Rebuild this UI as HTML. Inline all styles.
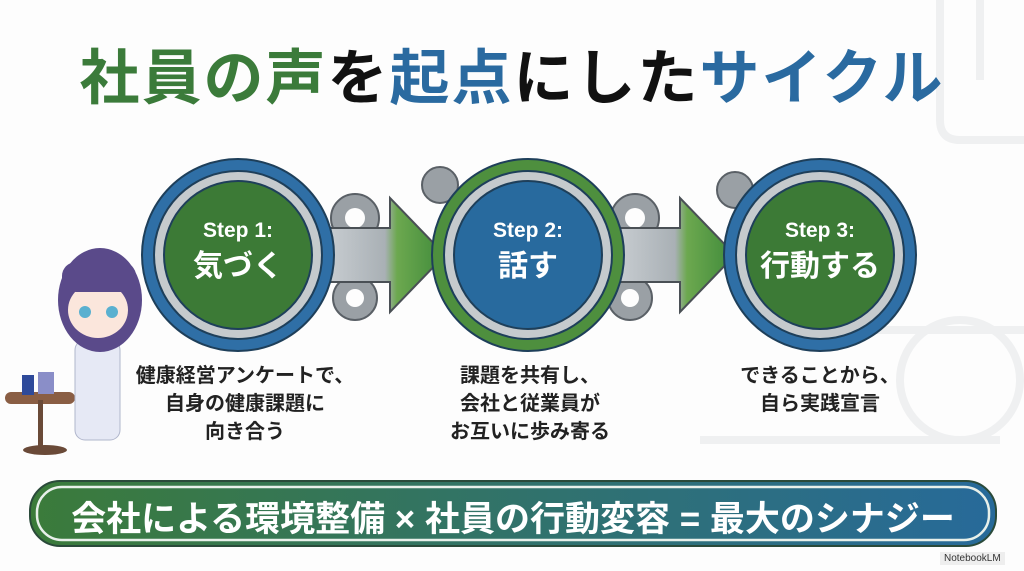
<!DOCTYPE html>
<html><head><meta charset="utf-8"><style>
body{margin:0;width:1024px;height:571px;overflow:hidden;background:#fdfdfd;font-family:"Liberation Sans","Noto Sans CJK JP",sans-serif}
.t{position:absolute;font-weight:bold;white-space:nowrap}
</style></head><body>
<svg width="1024" height="571" style="position:absolute;left:0;top:0">
<defs>
<linearGradient id="bg" x1="0" x2="1"><stop offset="0" stop-color="#3b7b3a"/><stop offset="1" stop-color="#276a9a"/></linearGradient>
<linearGradient id="ar" x1="0" x2="1"><stop offset="0" stop-color="#c9ced2"/><stop offset="0.5" stop-color="#a9b0b5"/><stop offset="0.6" stop-color="#6ca84f"/><stop offset="1" stop-color="#3f8a3a"/></linearGradient>
</defs>
<g stroke="#eff0f1" stroke-width="8" fill="none">
<path d="M940 0 V120 Q940 140 960 140 H1024"/><path d="M980 0 V80"/><circle cx="960" cy="380" r="60"/><path d="M850 330 H1024"/><path d="M700 440 H1000"/>
</g>
<g fill="#9aa0a5" stroke="#5a6066" stroke-width="2">
<circle cx="355" cy="218" r="24"/><circle cx="355" cy="298" r="22"/>
<circle cx="440" cy="185" r="18"/><circle cx="635" cy="218" r="24"/><circle cx="630" cy="298" r="22"/><circle cx="735" cy="190" r="18"/>
</g>
<g fill="#fdfdfd"><circle cx="355" cy="218" r="10"/><circle cx="355" cy="298" r="9"/><circle cx="635" cy="218" r="10"/><circle cx="630" cy="298" r="9"/></g>
<path d="M325 228 H390 V198 L445 255 L390 312 V282 H325Z" fill="url(#ar)" stroke="#4a5055" stroke-width="2"/>
<path d="M615 228 H680 V198 L735 255 L680 312 V282 H615Z" fill="url(#ar)" stroke="#4a5055" stroke-width="2"/>
<g stroke="#1e3f5a" stroke-width="2">
<circle cx="238" cy="255" r="96" fill="#2f6fa6"/><circle cx="238" cy="255" r="84" fill="#c5cacd"/><circle cx="238" cy="255" r="74" fill="#3c7a36"/>
<circle cx="528" cy="255" r="96" fill="#4e8f3e"/><circle cx="528" cy="255" r="84" fill="#c5cacd"/><circle cx="528" cy="255" r="74" fill="#286a9e"/>
<circle cx="820" cy="255" r="96" fill="#2f6fa6"/><circle cx="820" cy="255" r="84" fill="#c5cacd"/><circle cx="820" cy="255" r="74" fill="#3c7a36"/>
</g>
<ellipse cx="45" cy="450" rx="22" ry="5" fill="#6a4a38"/><rect x="5" y="392" width="70" height="12" rx="6" fill="#8a5e44"/><rect x="38" y="400" width="5" height="48" fill="#6a4a38"/>
<rect x="22" y="375" width="12" height="20" fill="#2e4a9a"/><rect x="38" y="372" width="16" height="22" fill="#8a8ec8"/>
<rect x="75" y="340" width="45" height="100" rx="10" fill="#e6e9f5" stroke="#b0b6cc"/>
<ellipse cx="100" cy="300" rx="42" ry="52" fill="#5a4a8a"/><ellipse cx="98" cy="310" rx="30" ry="28" fill="#fbe6dc"/>
<rect x="62" y="262" width="74" height="30" rx="14" fill="#5a4a8a"/>
<circle cx="85" cy="312" r="6" fill="#5ab0d0"/><circle cx="112" cy="312" r="6" fill="#5ab0d0"/>
<rect x="30" y="481" width="966" height="65" rx="30" fill="url(#bg)" stroke="#2a4a3a" stroke-width="2"/>
<rect x="37" y="487" width="952" height="53" rx="25" fill="none" stroke="#e8f0ea" stroke-width="2.5"/>
</svg>
<div class="t" style="left:0;width:1024px;top:30px;text-align:center;font-size:60px;letter-spacing:2px;color:#111"><span style="color:#3b7b3a">社員の声</span>を<span style="color:#2a6aa0">起点</span>にした<span style="color:#2a6aa0">サイクル</span></div>
<div class="t" style="left:138px;width:200px;top:213px;text-align:center;color:#fff;font-size:21px;line-height:36px">Step 1:<br><span style="font-size:30px">気づく</span></div>
<div class="t" style="left:428px;width:200px;top:213px;text-align:center;color:#fff;font-size:21px;line-height:36px">Step 2:<br><span style="font-size:30px">話す</span></div>
<div class="t" style="left:720px;width:200px;top:213px;text-align:center;color:#fff;font-size:21px;line-height:36px">Step 3:<br><span style="font-size:30px">行動する</span></div>
<div class="t" style="left:115px;width:260px;top:362px;text-align:center;color:#222;font-size:20px;line-height:28px">健康経営アンケートで、<br>自身の健康課題に<br>向き合う</div>
<div class="t" style="left:400px;width:260px;top:362px;text-align:center;color:#222;font-size:20px;line-height:28px">課題を共有し、<br>会社と従業員が<br>お互いに歩み寄る</div>
<div class="t" style="left:690px;width:260px;top:362px;text-align:center;color:#222;font-size:20px;line-height:28px">できることから、<br>自ら実践宣言</div>
<div class="t" style="left:30px;width:966px;top:491px;text-align:center;color:#fff;font-size:35px">会社による環境整備 × 社員の行動変容 = 最大のシナジー</div>
<div class="t" style="left:940px;top:552px;font-size:10px;color:#333;font-weight:normal;background:#eee;padding:1px 4px">NotebookLM</div>
</body></html>
